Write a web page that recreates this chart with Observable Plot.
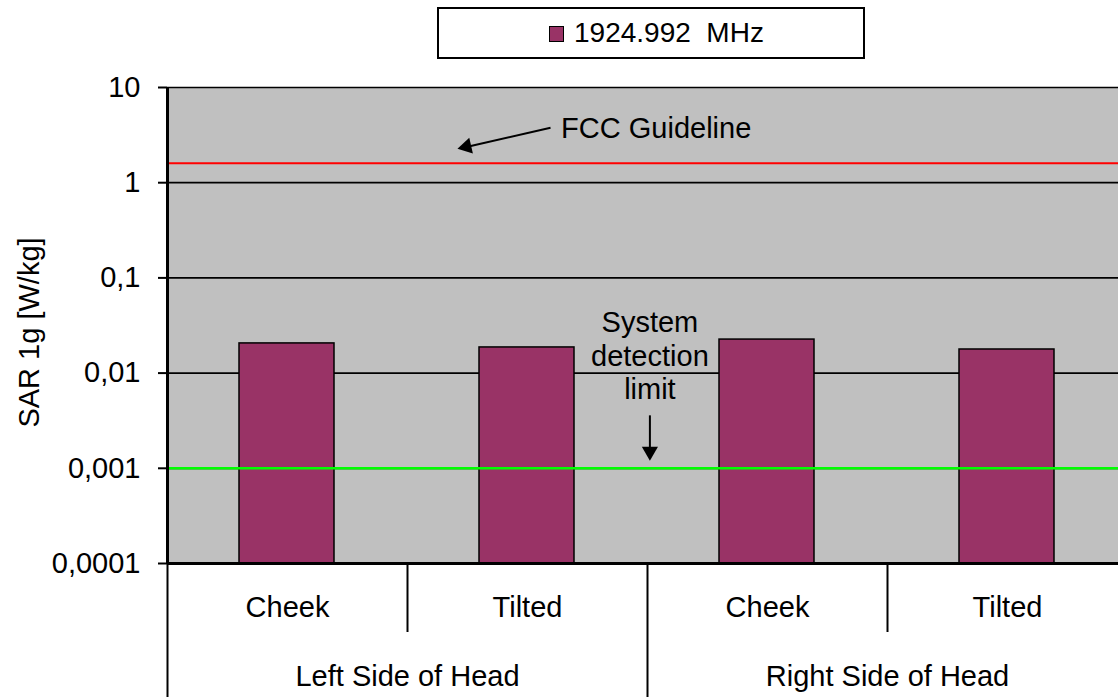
<!DOCTYPE html>
<html><head><meta charset="utf-8">
<script src="https://cdn.jsdelivr.net/npm/d3@7"></script>
<script src="https://cdn.jsdelivr.net/npm/@observablehq/plot@0.6"></script>
<style>
html,body{margin:0;padding:0;background:#fff;overflow:hidden;width:1118px;height:697px}
#wrap{position:relative;width:1118px;height:697px}
#legend{position:absolute;left:437px;top:7px;width:424px;height:48px;border:2px solid #000;background:#fff;font-family:"Liberation Sans",Arial,sans-serif;font-size:28px;color:#000}
#legend .sw{position:absolute;left:110px;top:17px;width:13px;height:14px;background:#993366;border:1.5px solid #000}
#legend .lb{position:absolute;left:135px;top:7px;line-height:34px;white-space:pre}
</style></head>
<body><div id="wrap"><div id="legend"><span class="sw"></span><span class="lb" id="legendText"></span></div></div>
<script>
const categories = ["Cheek", "Tilted", "Cheek", "Tilted"];
const groups = ["Left Side of Head", "Right Side of Head"];
const seriesName = "1924.992  MHz";
const sar = [0.0205, 0.0186, 0.0225, 0.0177];
const yTicks = [0.0001, 0.001, 0.01, 0.1, 1, 10];
const yTickLabels = ["0,0001", "0,001", "0,01", "0,1", "1", "10"];
const yLabel = "SAR 1g [W/kg]";
const fccLimit = 1.6;
const detectionLimit = 0.001;
const fccText = "FCC Guideline";
const detectionText = "System\ndetection\nlimit";

document.getElementById("legendText").textContent = seriesName;

const bars = sar.map((v, i) => ({i, v}));
const catIdx = categories.map((c, i) => i);
const groupIdx = groups.map((g, i) => i);

const chart = Plot.plot({
  width: 1118, height: 697,
  marginLeft: 167, marginRight: 0, marginTop: 87, marginBottom: 134,
  style: {fontFamily: "Liberation Sans, Arial, sans-serif", fontSize: "29px", color: "black", background: "transparent"},
  x: {domain: [0, 4], range: [167, 1127], axis: null},
  y: {type: "log", domain: [yTicks[0], yTicks[yTicks.length - 1]], axis: null},
  marks: [
    Plot.frame({fill: "#C0C0C0", stroke: null}),
    Plot.ruleY(yTicks, {stroke: "black", strokeWidth: 1.7}),
    Plot.rectY(bars, {x1: d => d.i, x2: d => d.i + 1, y1: () => yTicks[0], y2: "v", fill: "#993366", stroke: "black", strokeWidth: 1.5, insetLeft: 72, insetRight: 73}),
    Plot.ruleY([fccLimit], {stroke: "#FF0000", strokeWidth: 2}),
    Plot.ruleY([detectionLimit], {stroke: "#00FF00", strokeWidth: 2.5}),
    Plot.ruleX([0], {stroke: "black", strokeWidth: 3}),
    Plot.ruleY([yTicks[0]], {stroke: "black", strokeWidth: 3}),
    Plot.axisY({ticks: yTicks, tickSize: 9, tickPadding: 18, strokeWidth: 2, label: null,
      tickFormat: d => yTickLabels[yTicks.findIndex(t => Math.abs(t - d) / t < 1e-6)]}),
    Plot.axisX({ticks: [1, 3], tickSize: 69, tickFormat: () => "", strokeWidth: 2, label: null}),
    Plot.axisX({ticks: [0, 2, 4], tickSize: 134, tickFormat: () => "", strokeWidth: 2, label: null}),
    Plot.text(catIdx, {x: i => i + 0.5, text: i => categories[i], frameAnchor: "bottom", dy: 44, lineAnchor: "middle"}),
    Plot.text(groupIdx, {x: i => i * 2 + 1, text: i => groups[i], frameAnchor: "bottom", dy: 113, lineAnchor: "middle"}),
    Plot.text([yLabel], {frameAnchor: "left", rotate: -90, dx: -138, dy: 7, textAnchor: "middle", lineAnchor: "middle"}),
    // annotations (data space)
    Plot.text([fccText], {x: 1.64, y: 3.7, textAnchor: "start", lineAnchor: "middle"}),
    Plot.link([0], {x1: 1.596, y1: 3.78, x2: 1.25, y2: 2.39, stroke: "black", strokeWidth: 2}),
    Plot.dot([0], {x: 1.246, y: 2.39, symbol: "triangle", r: 6, fill: "black", stroke: null, rotate: 257}),
    Plot.text([detectionText], {x: 2.01, y: 0.01545, textAnchor: "middle", lineAnchor: "middle", lineHeight: 1.15}),
    Plot.link([0], {x1: 2.01, y1: 0.0036, x2: 2.01, y2: 0.0016, stroke: "black", strokeWidth: 2}),
    Plot.dot([0], {x: 2.01, y: 0.0015, symbol: "triangle", r: 6, fill: "black", stroke: null, rotate: 180})
  ]
});
document.getElementById("wrap").prepend(chart);
chart.style.position = "absolute";
chart.style.left = "0";
chart.style.top = "0";
chart.style.maxWidth = "none";
</script>
</body></html>
